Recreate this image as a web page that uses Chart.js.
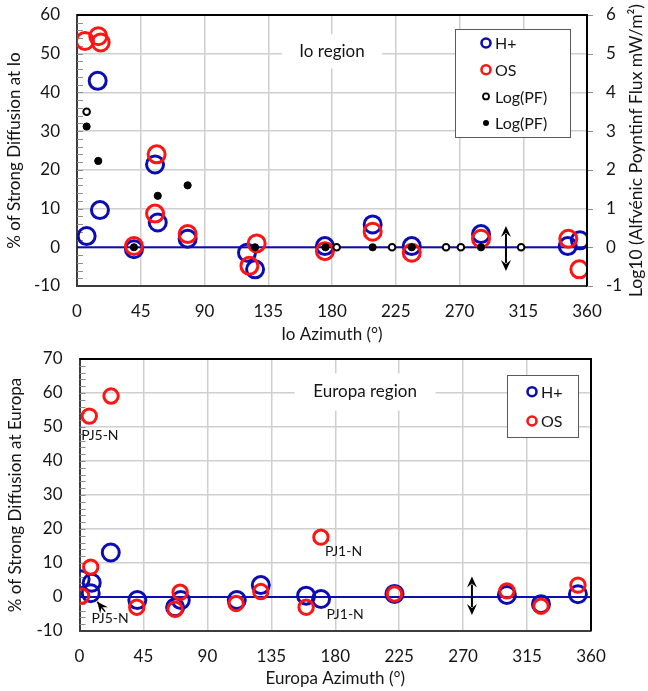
<!DOCTYPE html>
<html>
<head>
<meta charset="utf-8">
<script src="https://cdn.jsdelivr.net/npm/chart.js@4.4.0/dist/chart.umd.min.js"></script>
<style>
  body { margin: 0; background: #fff; }
  canvas { display: block; }
</style>
</head>
<body>
<canvas id="ioChart" width="648" height="346"></canvas>
<canvas id="europaChart" width="648" height="345"></canvas>
<script>
// Io footprint: azimuth (deg) vs % of strong diffusion
var ioHAz   = [6.8, 14.6, 16.2, 40.2, 55.1, 57, 78.1, 120, 125.7, 175, 208.7, 236.3, 285.2, 346.4, 355];
var ioHVal  = [2.9, 43, 9.6, -0.5, 21.4, 6.4, 2.2, -1.4, -5.7, 0.3, 5.9, 0.3, 3.4, 0.3, 1.8];
var ioOSAz  = [5.6, 15, 16.7, 40.2, 56.2, 55.1, 78.1, 126.8, 121.7, 175, 208.7, 236.3, 285.2, 346.8, 354.6];
var ioOSVal = [53.3, 54.5, 52.9, 0.3, 24.0, 8.7, 3.4, 1.0, -4.8, -1.0, 4.0, -1.4, 2.2, 2.2, -5.7];

// log10 Poynting flux (right axis)
var pfOpenAz  = [6.8, 183.3, 222.4, 260.5, 271, 313.5];
var pfOpenVal = [3.5, 0, 0, 0, 0, 0];
var pfFillAz  = [6.8, 15, 40.2, 57, 78.1, 125.7, 175.4, 208.7, 236.3, 285.2];
var pfFillVal = [3.12, 2.23, 0, 1.33, 1.6, 0, 0, 0, 0, 0];

// Europa footprint
var euHAz   = [0.8, 8.6, 7.9, 22, 40.7, 71.3, 67.3, 110.7, 127.6, 159.5, 170, 221.7, 300.8, 324.8, 350.8];
var euHVal  = [5.2, 4.2, 1.1, 13.1, -0.9, -0.9, -3.0, -0.9, 3.5, 0.4, -0.6, 0.9, 0.6, -2.1, 0.8];
var euOSAz  = [6.9, 22.2, 1.5, 7.9, 40.3, 70.8, 67.3, 110.2, 127.6, 169.9, 159.5, 221.7, 300.8, 324.8, 350.8];
var euOSVal = [53.2, 59.1, 0.3, 8.8, -3.0, 1.4, -3.6, -1.9, 1.6, 17.6, -3.0, 0.9, 1.8, -2.7, 3.5];

var BLUE = '#0c0cb4';
var RED = '#ff1414';
var GRID = '#cfcfcf';
var AXIS = '#3c3c3c';
var FONT = 'Lato, "Open Sans", sans-serif';

Chart.defaults.font.family = FONT;
Chart.defaults.color = '#151515';

function pts(xs, ys) {
  return xs.map(function(x, i) { return {x: x, y: ys[i]}; });
}

function zeroLine() {
  return { type: 'line', data: [{x: 0, y: 0}, {x: 360, y: 0}], borderColor: BLUE,
           borderWidth: 2, pointRadius: 0, order: 5 };
}

function arrowHead(ctx, x, y, dx, dy) {
  // concave head, tip at (x,y), pointing along (dx,dy)
  var len = Math.sqrt(dx * dx + dy * dy); dx /= len; dy /= len;
  var px = -dy, py = dx;
  ctx.beginPath();
  ctx.moveTo(x, y);
  ctx.lineTo(x - dx * 11 + px * 5, y - dy * 11 + py * 5);
  ctx.lineTo(x - dx * 7, y - dy * 7);
  ctx.lineTo(x - dx * 11 - px * 5, y - dy * 11 - py * 5);
  ctx.closePath();
  ctx.fill();
}

// frame, minor ticks, labels, legend box and arrows
function decorations(cfg) {
  return {
    id: 'decorations',
    beforeDatasetsDraw: function(chart) {
      var ctx = chart.ctx, a = chart.chartArea, xs = chart.scales.x, ys = chart.scales.y;
      ctx.save();
      ctx.strokeStyle = '#8c8c8c';
      ctx.lineWidth = 1;
      for (var v = ys.min + 2; v < ys.max; v += 2) {
        var py = Math.round(ys.getPixelForValue(v)) + 0.5;
        ctx.beginPath(); ctx.moveTo(a.left, py); ctx.lineTo(a.left + 6, py); ctx.stroke();
      }
      // short outward ticks on the right axis
      var y2 = chart.scales.y2;
      if (y2) {
        y2.ticks.forEach(function(t) {
          var py = Math.round(y2.getPixelForValue(t.value)) + 0.5;
          ctx.beginPath(); ctx.moveTo(a.right, py); ctx.lineTo(a.right + 6, py); ctx.stroke();
        });
      }
      var r = cfg.region;
      var cx = xs.getPixelForValue(r.x), cy = ys.getPixelForValue(r.y);
      ctx.fillStyle = '#fff';
      ctx.fillRect(cx - r.w / 2, cy - r.h / 2, r.w, r.h);
      ctx.fillStyle = '#151515';
      ctx.font = '17px ' + FONT;
      ctx.textAlign = 'center'; ctx.textBaseline = 'middle';
      ctx.fillText(r.text, cx, cy);
      ctx.restore();
    },
    afterDraw: function(chart) {
      var ctx = chart.ctx, a = chart.chartArea, xs = chart.scales.x, ys = chart.scales.y;
      ctx.save();
      // top and right edges of the plot frame
      ctx.strokeStyle = '#000'; ctx.lineWidth = 2;
      ctx.beginPath();
      ctx.moveTo(a.left, a.top); ctx.lineTo(a.right, a.top); ctx.lineTo(a.right, a.bottom);
      ctx.stroke();

      // double arrows
      ctx.fillStyle = '#000'; ctx.strokeStyle = '#000'; ctx.lineWidth = 2;
      cfg.arrows.forEach(function(ar) {
        var x = xs.getPixelForValue(ar.x), y1 = ys.getPixelForValue(ar.y1), y2 = ys.getPixelForValue(ar.y2);
        ctx.beginPath(); ctx.moveTo(x, y1 + 8); ctx.lineTo(x, y2 - 8); ctx.stroke();
        arrowHead(ctx, x, y1, 0, -1);
        arrowHead(ctx, x, y2, 0, 1);
      });
      (cfg.pointers || []).forEach(function(p) {
        var x1 = xs.getPixelForValue(p.x1), y1 = ys.getPixelForValue(p.y1);
        var x2 = xs.getPixelForValue(p.x2), y2 = ys.getPixelForValue(p.y2);
        ctx.lineWidth = 1.5;
        ctx.beginPath(); ctx.moveTo(x1, y1); ctx.lineTo(x2, y2); ctx.stroke();
        arrowHead(ctx, x2, y2, x2 - x1, y2 - y1);
      });

      // trajectory notes
      ctx.fillStyle = '#151515';
      ctx.font = '14px ' + FONT;
      ctx.textAlign = 'center'; ctx.textBaseline = 'middle';
      (cfg.notes || []).forEach(function(n) {
        ctx.fillText(n.text, xs.getPixelForValue(n.x), ys.getPixelForValue(n.y));
      });

      // legend box
      var lg = cfg.legend;
      ctx.fillStyle = '#fff';
      ctx.fillRect(lg.left, lg.top, lg.width, lg.height);
      ctx.strokeStyle = '#5a5a5a'; ctx.lineWidth = 1;
      ctx.strokeRect(lg.left + 0.5, lg.top + 0.5, lg.width, lg.height);
      ctx.font = '16px ' + FONT;
      ctx.textAlign = 'left';
      var row = 0;
      chart.data.datasets.forEach(function(ds) {
        if (!ds.label) return;
        var y = lg.top + lg.first + row * lg.step;
        ctx.beginPath();
        ctx.arc(lg.marker, y, ds.legendR, 0, Math.PI * 2);
        if (ds.legendFill) { ctx.fillStyle = ds.borderColor; ctx.fill(); }
        else { ctx.strokeStyle = ds.borderColor; ctx.lineWidth = ds.legendW; ctx.stroke(); }
        ctx.fillStyle = '#151515';
        ctx.fillText(ds.label, lg.marker + 9, y + 1);
        row++;
      });

      // right axis title, reading upward
      if (cfg.rightTitle) {
        ctx.save();
        ctx.translate(cfg.rightTitle.x, (a.top + a.bottom) / 2);
        ctx.rotate(-Math.PI / 2);
        ctx.font = '17.5px ' + FONT;
        ctx.textAlign = 'center'; ctx.textBaseline = 'middle';
        ctx.fillStyle = '#151515';
        ctx.fillText(cfg.rightTitle.text, 0, 0);
        ctx.restore();
      }
      ctx.restore();
    }
  };
}

function xAxis(title, padBottom) {
  return {
    type: 'linear', min: 0, max: 360,
    ticks: { stepSize: 45, padding: 15, font: { size: 17 } },
    grid: { color: GRID, lineWidth: 1.5, drawTicks: false },
    border: { color: AXIS, width: 2 },
    title: { display: true, text: title, font: { size: 17 }, padding: { top: 0, bottom: padBottom } },
    afterFit: function(s) { s.height = 60; }
  };
}

// label gap comes from an invisible tick mark so it does not pad the chart top
function yAxis(min, max, title, width, padTop) {
  return {
    position: 'left', min: min, max: max,
    ticks: { stepSize: 10, padding: 0, font: { size: 17 } },
    grid: { color: GRID, lineWidth: 1.5, drawTicks: true, tickLength: 17, tickColor: 'rgba(0,0,0,0)' },
    border: { color: AXIS, width: 2 },
    title: { display: true, text: title, font: { size: 17 }, padding: { top: padTop, bottom: 0 } },
    afterFit: function(s) { s.width = width; }
  };
}

new Chart(document.getElementById('ioChart'), {
  type: 'scatter',
  data: {
    datasets: [
      { label: 'H+', data: pts(ioHAz, ioHVal), borderColor: BLUE, backgroundColor: 'transparent',
        pointRadius: 8.5, borderWidth: 3, order: 3, legendR: 4.5, legendW: 2.6 },
      { label: 'OS', data: pts(ioOSAz, ioOSVal), borderColor: RED, backgroundColor: 'transparent',
        pointRadius: 8.5, borderWidth: 3, order: 2, legendR: 4.5, legendW: 2.6 },
      { label: 'Log(PF)', yAxisID: 'y2', data: pts(pfOpenAz, pfOpenVal), borderColor: '#000',
        backgroundColor: '#fff', pointRadius: 3.3, borderWidth: 2, order: 1, legendR: 3, legendW: 1.8 },
      { label: 'Log(PF)', yAxisID: 'y2', data: pts(pfFillAz, pfFillVal), borderColor: '#000',
        backgroundColor: '#000', pointRadius: 3.6, borderWidth: 1, order: 0, legendR: 3, legendFill: true },
      zeroLine()
    ]
  },
  options: {
    responsive: false,
    animation: false,
    events: [],
    layout: { padding: { top: 15, bottom: 0, left: 0, right: 0 } },
    plugins: { legend: { display: false }, tooltip: { enabled: false } },
    scales: {
      x: xAxis('Io Azimuth (°)', 1),
      y: yAxis(-10, 60, '% of Strong Diffusion at Io', 77, 4),
      y2: {
        position: 'right', min: -1, max: 6,
        ticks: { stepSize: 1, padding: 0, font: { size: 17 } },
        grid: { drawOnChartArea: false, drawTicks: true, tickLength: 19, tickColor: 'rgba(0,0,0,0)' },
        border: { color: '#000', width: 2 },
        afterFit: function(s) { s.width = 61; }
      }
    }
  },
  plugins: [decorations({
    region: { text: 'Io region', x: 180, y: 50.6, w: 100, h: 34 },
    arrows: [{ x: 302.8, y1: 5.5, y2: -6.1 }],
    legend: { left: 455, top: 29, width: 115, height: 108, first: 14, step: 26.7, marker: 486 },
    rightTitle: { text: 'Log10 (Alfvénic Poyntinf Flux mW/m²)', x: 636 }
  })]
});

new Chart(document.getElementById('europaChart'), {
  type: 'scatter',
  data: {
    datasets: [
      { label: 'H+', data: pts(euHAz, euHVal), borderColor: BLUE, backgroundColor: 'transparent',
        pointRadius: 8.5, borderWidth: 3, order: 3, legendR: 4.5, legendW: 2.6 },
      { label: 'OS', data: pts(euOSAz, euOSVal), borderColor: RED, backgroundColor: 'transparent',
        pointRadius: 7.2, borderWidth: 3, order: 2, legendR: 4.5, legendW: 2.6 },
      zeroLine()
    ]
  },
  options: {
    responsive: false,
    animation: false,
    events: [],
    layout: { padding: { top: 13, bottom: 0, left: 0, right: 57 } },
    plugins: { legend: { display: false }, tooltip: { enabled: false } },
    scales: {
      x: xAxis('Europa Azimuth (°)', 2),
      y: yAxis(-10, 70, '% of Strong Diffusion at Europa', 79.5, 5)
    }
  },
  plugins: [decorations({
    region: { text: 'Europa region', x: 201, y: 60.3, w: 141, h: 37 },
    arrows: [{ x: 276.2, y1: 6, y2: -5.3 }],
    pointers: [{ x1: 18.0, y1: -4.3, x2: 12.5, y2: -1.4 }],
    notes: [
      { text: 'PJ5-N', x: 14.4, y: 47.5 },
      { text: 'PJ5-N', x: 21.5, y: -6.3 },
      { text: 'PJ1-N', x: 185.8, y: 13.4 },
      { text: 'PJ1-N', x: 187, y: -5.0 }
    ],
    legend: { left: 507, top: 29, width: 71, height: 62, first: 16.7, step: 29.3, marker: 532 }
  })]
});
</script>
</body>
</html>
